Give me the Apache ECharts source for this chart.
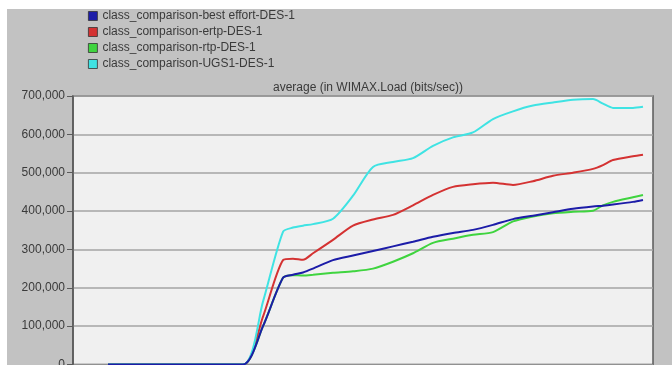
<!DOCTYPE html>
<html>
<head>
<meta charset="utf-8">
<script src="https://cdn.jsdelivr.net/npm/echarts@6/dist/echarts.min.js"></script>
<style>
  html, body { margin: 0; padding: 0; background: #ffffff; }
  #chart { width: 672px; height: 365px; }
</style>
</head>
<body>
<div id="chart"></div>
<script>
// Simulation time samples (shared by all series)
const times = [3.5, 10, 17, 19, 21, 22, 23, 24, 26, 28, 30, 32, 34, 36, 38, 40, 42, 44, 46, 48, 50, 52, 53, 54, 56, 57];

// Average WiMAX load (bits/sec) per service class
const bestEffort = [0, 0, 0, 100000, 226000, 234000, 240000, 250000, 272000, 284000, 296000, 308000, 320000, 333000, 343000, 351000, 364000, 379000, 388000, 397000, 406000, 412000, 414000, 417000, 424000, 429000];
const ertp = [0, 0, 0, 125000, 272000, 276000, 273000, 290000, 325000, 362000, 378000, 390000, 415000, 442000, 463000, 470000, 474000, 468000, 478000, 492000, 500000, 510000, 520000, 533000, 543000, 547000];
const rtp = [0, 0, 0, 100000, 226000, 233000, 232000, 234000, 239000, 243000, 250000, 268000, 290000, 317000, 328000, 338000, 345000, 373000, 386000, 394000, 398000, 401000, 415000, 424000, 436000, 442000];
const ugs = [0, 0, 0, 164000, 346000, 357000, 362000, 366000, 380000, 440000, 515000, 528000, 538000, 570000, 592000, 605000, 640000, 660000, 675000, 683000, 690000, 692000, 680000, 669000, 669000, 672000];

const seriesNames = [
  'class_comparison-best effort-DES-1',
  'class_comparison-ertp-DES-1',
  'class_comparison-rtp-DES-1',
  'class_comparison-UGS1-DES-1'
];
const seriesColors = ['#1c1ca8', '#d43232', '#3fd43f', '#3fe3e3'];
const yTicks = { min: 0, max: 700000, interval: 100000 };
const chartTitle = 'average (in WIMAX.Load (bits/sec))';

function pairs(vals) {
  return times.map((t, i) => [t, vals[i]]);
}

const fontFamily = 'Liberation Sans, Arial';

const chart = echarts.init(document.getElementById('chart'));
chart.setOption({
  backgroundColor: '#ffffff',
  animation: false,
  graphic: [
    { type: 'rect', z: -10, shape: { x: 7, y: 9, width: 672, height: 365 }, style: { fill: '#c2c2c2' } }
  ],
  title: {
    text: chartTitle,
    left: 363,
    textAlign: 'center',
    top: 77,
    textStyle: { fontFamily, fontSize: 12, fontWeight: 'normal', color: '#3a3a3a' }
  },
  legend: {
    orient: 'vertical',
    left: 83,
    top: 5,
    itemWidth: 9,
    itemHeight: 9,
    itemGap: 4,
    icon: 'rect',
    itemStyle: { borderColor: '#333', borderWidth: 0.8 },
    textStyle: { fontFamily, fontSize: 12, color: '#3a3a3a' },
    data: seriesNames
  },
  grid: {
    left: 73,
    right: 19,
    top: 96,
    bottom: 0.5,
    outerBoundsMode: 'none',
    containLabel: false,
    show: true,
    backgroundColor: '#f0f0f0',
    borderColor: '#5a5a5a',
    borderWidth: 1.5
  },
  xAxis: {
    type: 'value',
    min: 0,
    max: 58,
    show: false
  },
  yAxis: {
    type: 'value',
    min: yTicks.min,
    max: yTicks.max,
    interval: yTicks.interval,
    axisLine: { show: true, lineStyle: { color: '#5a5a5a', width: 1.5 } },
    axisTick: { show: true, length: 6, lineStyle: { color: '#5a5a5a', width: 1 } },
    axisLabel: {
      margin: 8,
      fontFamily,
      fontSize: 12,
      color: '#3a3a3a',
      formatter: v => v.toLocaleString('en-US')
    },
    splitLine: { show: true, lineStyle: { color: '#a4a4a4', width: 1.5 } }
  },
  series: [bestEffort, ertp, rtp, ugs].map((vals, i) => ({
    name: seriesNames[i],
    type: 'line',
    data: pairs(vals),
    showSymbol: false,
    smooth: 0.25,
    lineStyle: { width: 2, color: seriesColors[i] },
    itemStyle: { color: seriesColors[i] },
    z: i === 0 ? 5 : 3
  }))
});
</script>
</body>
</html>
